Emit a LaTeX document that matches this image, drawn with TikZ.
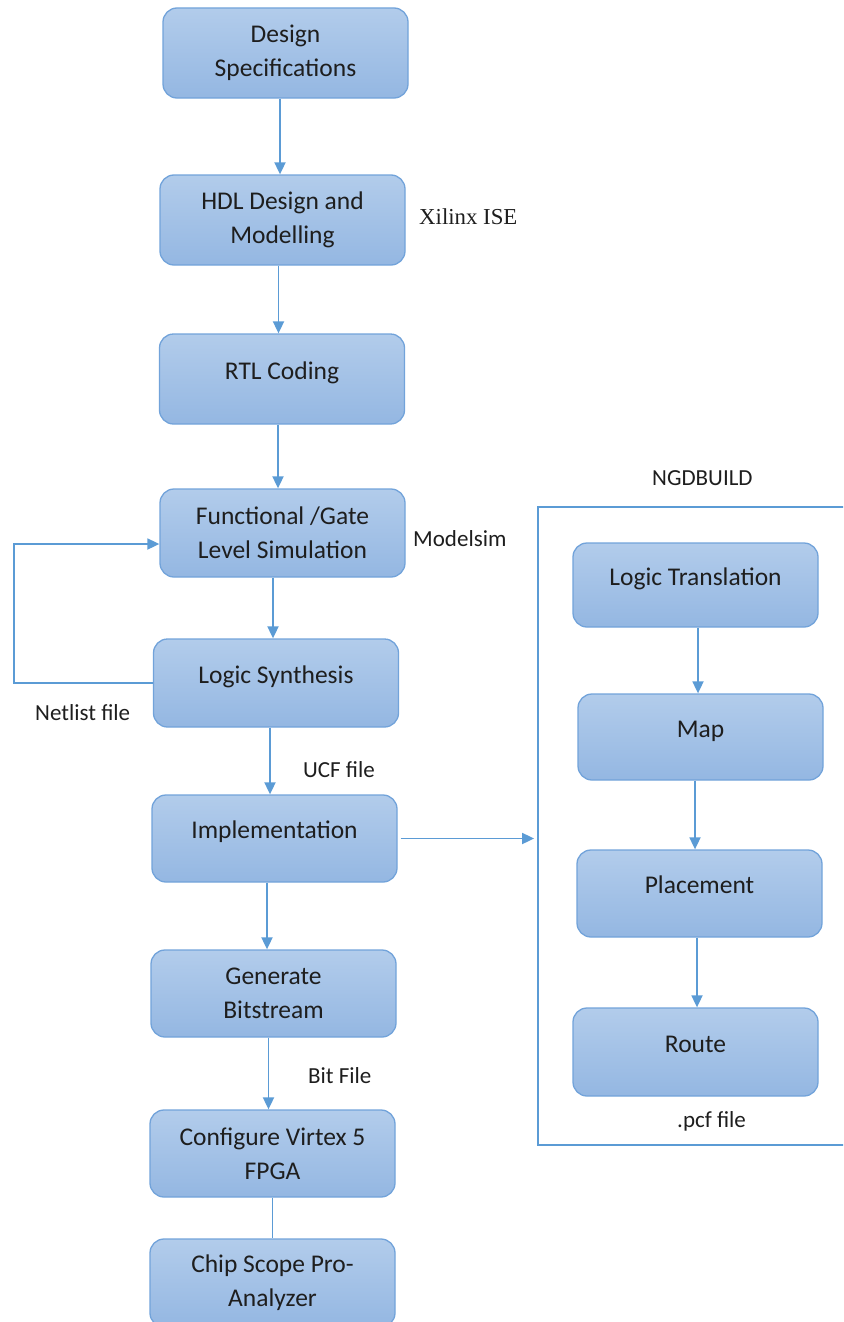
\documentclass[tikz,border=0pt]{standalone}
\usepackage{fontspec}
\setmainfont{Carlito}
\newfontfamily\serifnote{Liberation Serif}
\usetikzlibrary{arrows.meta}

\definecolor{flowblue}{HTML}{5B9BD5}
\definecolor{boxtop}{HTML}{B2CCEB}
\definecolor{boxbot}{HTML}{94B7E2}
\definecolor{boxedge}{HTML}{72A3DA}
\definecolor{ink}{HTML}{1E1E1E}

\begin{document}
\begin{tikzpicture}[x=1pt,y=-1pt,
  stage/.style={rectangle, rounded corners=14pt, draw=boxedge, line width=1.3pt,
    top color=boxtop, bottom color=boxbot, minimum width=245pt, inner sep=2pt,
    text=ink, font=\fontsize{25.5}{34}\selectfont, align=center},
  oneline/.style={text height=18pt, text depth=18pt},
  flow/.style={draw=flowblue, line width=1.8pt, -{Triangle[length=12pt,width=11pt]}},
  plainlink/.style={draw=flowblue, line width=1.8pt},
  note/.style={inner sep=0pt, anchor=base west, text=ink, font=\fontsize{23}{28}\selectfont}]

\useasboundingbox (0,0) rectangle (843,1322);
\clip (0,0) rectangle (843,1322);

% main design flow
\node[stage, minimum height=90pt] (spec) at (285.5,53) {Design\\Specifications};
\node[stage, minimum height=90pt] (hdl) at (282.5,220) {HDL Design and\\Modelling};
\node[stage, oneline, minimum height=90pt] (rtl) at (282,379) {RTL Coding};
\node[stage, minimum height=88pt] (sim) at (282.5,533) {Functional /Gate\\Level Simulation};
\node[stage, oneline, minimum height=88pt] (syn) at (276,683) {Logic Synthesis};
\node[stage, oneline, minimum height=87pt] (impl) at (274.5,838.5) {Implementation};
\node[stage, minimum height=87pt] (bit) at (273.5,993.5) {Generate\\Bitstream};
\node[stage, minimum height=87pt] (cfg) at (272.5,1153.5) {Configure Virtex 5\\FPGA};
\node[stage, minimum height=88pt] (csp) at (272.5,1283) {Chip Scope Pro-\\Analyzer};

% NGDBUILD frame and its steps
\node[draw=flowblue, line width=1.8pt, minimum width=330pt, minimum height=638pt, inner sep=0pt] (ngd) at (703,826) {};
\node[stage, oneline, minimum height=84pt] (trans) at (695.5,585) {Logic Translation};
\node[stage, oneline, minimum height=86pt] (map) at (700.5,737) {Map};
\node[stage, oneline, minimum height=87pt] (place) at (699.5,893.5) {Placement};
\node[stage, oneline, minimum height=88pt] (route) at (695.5,1052) {Route};

% connectors
\draw[flow] ([xshift=-5.5pt]spec.south) -- ([xshift=-5.5pt]spec.south |- hdl.north);
\draw[flow] ([xshift=-4pt]hdl.south) -- ([xshift=-4pt]hdl.south |- rtl.north);
\draw[flow] ([xshift=-4pt]rtl.south) -- ([xshift=-4pt]rtl.south |- sim.north);
\draw[flow] ([xshift=-9.5pt]sim.south) -- ([xshift=-9.5pt]sim.south |- syn.north);
\draw[flow] ([xshift=-6pt]syn.south) -- ([xshift=-6pt]syn.south |- impl.north);
\draw[flow] ([xshift=-7.5pt]impl.south) -- ([xshift=-7.5pt]impl.south |- bit.north);
\draw[flow] ([xshift=-5pt]bit.south) -- ([xshift=-5pt]bit.south |- cfg.north);
\draw[plainlink] (cfg.south) -- (cfg.south |- csp.north);

\draw[flow] (syn.west) -- ++(-139,0) |- ([yshift=-11pt]sim.west);
\draw[flow] ([xshift=3pt]impl.east) -- ([xshift=-3pt]impl.east -| ngd.west);

\draw[flow] ([xshift=2.5pt]trans.south) -- ([xshift=2.5pt]trans.south |- map.north);
\draw[flow] ([xshift=-5.5pt]map.south) -- ([xshift=-5.5pt]map.south |- place.north);
\draw[flow] ([xshift=-2.5pt]place.south) -- ([xshift=-2.5pt]place.south |- route.north);

% side notes
\node[note, font=\serifnote\fontsize{22.8}{28}\selectfont] (xil) at (419,224) {Xilinx ISE};
\node[note] (msim) at (413,546) {Modelsim};
\node[note] (ngdlbl) at (652,485) {NGDBUILD};
\node[note] (net) at (35,720) {Netlist file};
\node[note] (ucf) at (303,777) {UCF file};
\node[note] (bitf) at (308,1083) {Bit File};
\node[note] (pcf) at (677,1127) {.pcf file};

\end{tikzpicture}
\end{document}
